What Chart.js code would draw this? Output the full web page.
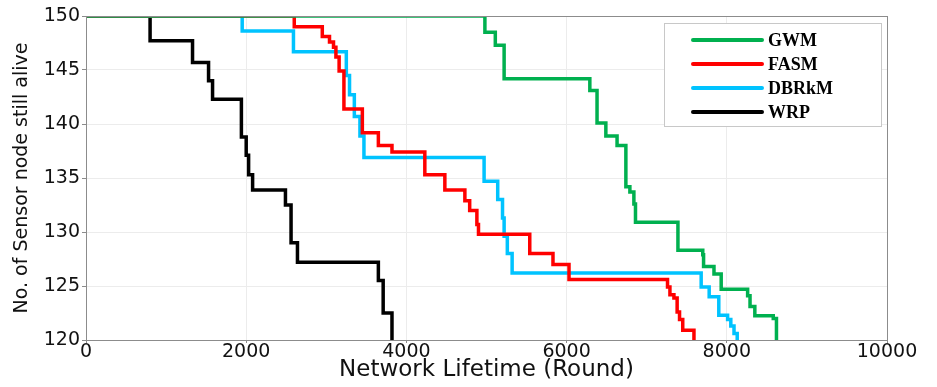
<!DOCTYPE html>
<html>
<head>
<meta charset="utf-8">
<script src="https://cdn.jsdelivr.net/npm/chart.js@4"></script>
<style>
  html, body { margin: 0; padding: 0; background: #fff; }
  #wrap { width: 937px; height: 387px; }
</style>
</head>
<body>
<div id="wrap"><canvas id="lifetimeChart"></canvas></div>
<script>
const seriesNames = ['GWM', 'FASM', 'DBRkM', 'WRP'];
const seriesColors = ['#00b04f', '#ff0000', '#00c3ff', '#000000'];

// round where each curve steps down, and the nodes alive after that step
const gwmRounds = [0, 4980, 5110, 5220, 6290, 6380, 6490, 6630, 6740, 6790, 6840, 6860, 7390, 7700, 7710, 7840, 7930, 8260, 8290, 8350, 8580, 8620];
const gwmAlive = [150, 148.5, 147.3, 144.2, 143.1, 140.1, 138.9, 138.0, 134.2, 133.7, 132.6, 130.9, 128.3, 127.9, 126.8, 126.1, 124.7, 124.1, 123.1, 122.25, 122.0, 120];

const fasmRounds = [0, 2600, 2950, 3040, 3090, 3120, 3160, 3220, 3450, 3650, 3820, 4230, 4480, 4730, 4790, 4880, 4900, 5540, 5830, 6030, 7260, 7290, 7340, 7380, 7410, 7450, 7590];
const fasmAlive = [150, 149.0, 148.1, 147.6, 147.1, 146.2, 144.9, 141.4, 139.2, 138.0, 137.4, 135.3, 133.9, 132.9, 132.0, 130.7, 129.8, 128.0, 127.0, 125.6, 124.9, 124.2, 123.9, 122.6, 121.9, 120.9, 120];

const dbrkmRounds = [0, 1950, 2590, 3250, 3290, 3350, 3420, 3470, 4970, 5140, 5200, 5220, 5260, 5320, 7680, 7780, 7900, 8010, 8050, 8090, 8130];
const dbrkmAlive = [150, 148.6, 146.7, 144.5, 142.7, 140.7, 138.9, 136.9, 134.7, 133.0, 131.3, 129.6, 128.0, 126.2, 124.9, 124.0, 122.3, 121.9, 121.3, 120.6, 120];

const wrpRounds = [0, 800, 1330, 1530, 1580, 1940, 2000, 2030, 2080, 2490, 2560, 2640, 3650, 3710, 3820];
const wrpAlive = [150, 147.7, 145.7, 144.0, 142.3, 138.8, 137.1, 135.3, 133.9, 132.5, 129.0, 127.2, 125.5, 122.5, 120];

const xTicks = [0, 2000, 4000, 6000, 8000, 10000];
const yTicks = [120, 125, 130, 135, 140, 145, 150];

const allRounds = [gwmRounds, fasmRounds, dbrkmRounds, wrpRounds];
const allAlive = [gwmAlive, fasmAlive, dbrkmAlive, wrpAlive];

const datasets = seriesNames.map((name, i) => ({
  label: name,
  data: allRounds[i].map((r, j) => ({ x: r, y: allAlive[i][j] })),
  borderColor: seriesColors[i],
  backgroundColor: seriesColors[i],
  borderWidth: 3.5,
  pointRadius: 0,
  stepped: true,
  fill: false,
  order: i
}));

// frame round the plot and the boxed legend in the top right corner
const frameAndLegend = {
  id: 'frameAndLegend',
  afterDraw(chart) {
    const ctx = chart.ctx;
    const area = chart.chartArea;
    ctx.save();
    ctx.strokeStyle = '#8c8c8c';
    ctx.lineWidth = 1;
    ctx.strokeRect(area.left + 0.5, area.top + 0.5, area.right - area.left, area.bottom - area.top);

    const boxW = 217, boxH = 103;
    const bx = area.right - 6 - boxW, by = area.top + 7;
    ctx.fillStyle = '#fff';
    ctx.fillRect(bx, by, boxW, boxH);
    ctx.strokeStyle = '#c8c8c8';
    ctx.strokeRect(bx + 0.5, by + 0.5, boxW, boxH);

    ctx.font = 'bold 18px "Liberation Serif", "Times New Roman", serif';
    ctx.textBaseline = 'middle';
    chart.data.datasets.forEach((ds, i) => {
      const yy = by + 17 + i * 24;
      ctx.strokeStyle = ds.borderColor;
      ctx.lineWidth = 4;
      ctx.lineCap = 'round';
      ctx.beginPath();
      ctx.moveTo(bx + 29, yy);
      ctx.lineTo(bx + 98, yy);
      ctx.stroke();
      ctx.fillStyle = '#000';
      ctx.fillText(ds.label, bx + 104, yy + 1);
    });
    ctx.restore();
  }
};

new Chart(document.getElementById('lifetimeChart'), {
  type: 'line',
  data: { datasets: datasets },
  options: {
    responsive: true,
    maintainAspectRatio: false,
    animation: false,
    layout: { padding: { top: 16, right: 50, left: 0, bottom: 0 } },
    plugins: {
      legend: { display: false },
      tooltip: { enabled: false }
    },
    scales: {
      x: {
        type: 'linear',
        min: 0,
        max: 10000,
        afterBuildTicks: scale => { scale.ticks = xTicks.map(v => ({ value: v })); },
        afterFit: scale => { scale.height = 47; },
        ticks: {
          color: '#111',
          font: { family: 'DejaVu Sans', size: 19, lineHeight: 1 },
          padding: 0,
          maxRotation: 0,
          callback: v => String(v)
        },
        grid: { color: '#ececec', tickColor: '#8c8c8c', tickLength: 3 },
        border: { color: '#8c8c8c' },
        title: {
          display: true,
          text: 'Network Lifetime (Round)',
          color: '#111',
          font: { family: 'DejaVu Sans', size: 23, lineHeight: 1 },
          padding: { top: 0, bottom: 5 }
        }
      },
      y: {
        min: 120,
        max: 150,
        afterBuildTicks: scale => { scale.ticks = yTicks.map(v => ({ value: v })); },
        afterFit: scale => { scale.width = 86; },
        ticks: { color: '#111', font: { family: 'DejaVu Sans', size: 19 }, padding: 2 },
        grid: { color: '#ececec', tickColor: '#8c8c8c', tickLength: 4 },
        border: { color: '#8c8c8c' },
        title: {
          display: true,
          text: 'No. of Sensor node still alive',
          color: '#111',
          font: { family: 'DejaVu Sans', size: 19 },
          padding: { top: 11, bottom: 0 }
        }
      }
    }
  },
  plugins: [frameAndLegend]
});
</script>
</body>
</html>
